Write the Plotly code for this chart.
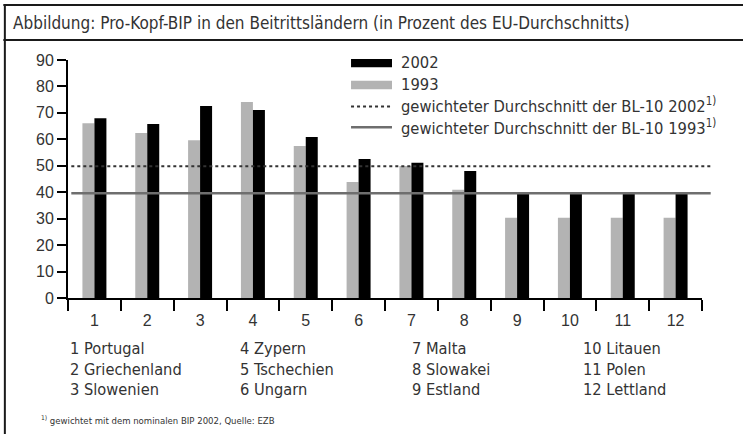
import plotly.graph_objects as go

categories = ["1", "2", "3", "4", "5", "6", "7", "8", "9", "10", "11", "12"]
values_1993 = [66.1, 62.4, 59.7, 74.1, 57.5, 43.9, 49.9, 40.9, 30.3, 30.3, 30.3, 30.3]
values_2002 = [68.0, 65.8, 72.6, 71.1, 60.9, 52.6, 51.1, 48.0, 39.6, 39.6, 39.6, 39.6]
avg_2002 = 49.8
avg_1993 = 39.6
y_ticks = [0, 10, 20, 30, 40, 50, 60, 70, 80, 90]
country_labels = [
    ["1 Portugal", "2 Griechenland", "3 Slowenien"],
    ["4 Zypern", "5 Tschechien", "6 Ungarn"],
    ["7 Malta", "8 Slowakei", "9 Estland"],
    ["10 Litauen", "11 Polen", "12 Lettland"],
]
legend_labels = ["2002", "1993",
                 "gewichteter Durchschnitt der BL-10 2002<sup>1)</sup>",
                 "gewichteter Durchschnitt der BL-10 1993<sup>1)</sup>"]
title_text = "Abbildung: Pro-Kopf-BIP in den Beitrittsländern (in Prozent des EU-Durchschnitts)"
footnote_text = "<sup>1)</sup> gewichtet mit dem nominalen BIP 2002, Quelle: EZB"

W, H = 743, 434
ML, MR, MT, MB = 67.7, 40.7, 60.0, 135.7
PW = W - ML - MR
PH = H - MT - MB

def px(x):
    return (x - ML) / PW

def py(y):
    return (H - MB - y) / PH

COND = "Liberation Sans Narrow, DejaVu Sans Condensed, Arial Narrow, sans-serif"
REG = "Liberation Sans, Arial, Helvetica, sans-serif"
TXT = "#333333"

fig = go.Figure()
fig.add_trace(go.Bar(x=categories, y=values_1993, name="1993",
                     marker=dict(color="#b3b3b3", line=dict(width=0))))
fig.add_trace(go.Bar(x=categories, y=values_2002, name="2002",
                     marker=dict(color="#000000", line=dict(width=0))))

shapes = []
# average lines
shapes.append(dict(type="line", xref="paper", yref="y", x0=px(71), x1=px(711),
                   y0=avg_2002, y1=avg_2002, line=dict(color="#333333", width=2, dash="dot")))
shapes.append(dict(type="line", xref="paper", yref="y", x0=px(71), x1=px(711),
                   y0=avg_1993, y1=avg_1993, line=dict(color="#6e6e6e", width=2.5)))
# frame
frame_col = "#1a1a1a"
shapes.append(dict(type="line", xref="paper", yref="paper", x0=px(3), x1=px(745),
                   y0=py(5), y1=py(5), line=dict(color=frame_col, width=2)))
shapes.append(dict(type="line", xref="paper", yref="paper", x0=px(3), x1=px(745),
                   y0=py(40), y1=py(40), line=dict(color=frame_col, width=2)))
shapes.append(dict(type="line", xref="paper", yref="paper", x0=px(4.5), x1=px(4.5),
                   y0=py(4), y1=py(436), line=dict(color=frame_col, width=2)))
# legend symbols
shapes.append(dict(type="rect", xref="paper", yref="paper", x0=px(351), x1=px(392),
                   y0=py(59), y1=py(67.3), fillcolor="#000000", line=dict(width=0)))
shapes.append(dict(type="rect", xref="paper", yref="paper", x0=px(351), x1=px(392),
                   y0=py(80.7), y1=py(89.3), fillcolor="#b3b3b3", line=dict(width=0)))
shapes.append(dict(type="line", xref="paper", yref="paper", x0=px(351), x1=px(392),
                   y0=py(106.5), y1=py(106.5), line=dict(color="#333333", width=2, dash="dot")))
shapes.append(dict(type="line", xref="paper", yref="paper", x0=px(351), x1=px(392),
                   y0=py(127.3), y1=py(127.3), line=dict(color="#6e6e6e", width=2.5)))

annotations = []
annotations.append(dict(text=title_text, xref="paper", yref="paper", x=px(11), y=py(23),
                        xanchor="left", yanchor="middle", showarrow=False,
                        font=dict(family=COND, size=17, color=TXT)))
legend_y = [63, 84.5, 105.5, 127]
for lab, ly in zip(legend_labels, legend_y):
    annotations.append(dict(text=lab, xref="paper", yref="paper", x=px(399), y=py(ly),
                            xanchor="left", yanchor="middle", showarrow=False,
                            font=dict(family=COND, size=16.4, color=TXT)))
col_x = [68, 238, 410, 581]
row_y = [349, 369.5, 390]
for cx, col in zip(col_x, country_labels):
    for ry, lab in zip(row_y, col):
        annotations.append(dict(text=lab, xref="paper", yref="paper", x=px(cx), y=py(ry),
                                xanchor="left", yanchor="middle", showarrow=False,
                                font=dict(family=COND, size=16.3, color=TXT)))
annotations.append(dict(text=footnote_text, xref="paper", yref="paper", x=px(39), y=py(420),
                        xanchor="left", yanchor="middle", showarrow=False,
                        font=dict(family=COND, size=9.5, color=TXT)))

fig.update_layout(
    width=W, height=H,
    margin=dict(l=ML, r=MR, t=MT, b=MB, pad=0),
    paper_bgcolor="white", plot_bgcolor="white",
    barmode="group", bargap=0.546, bargroupgap=0,
    showlegend=False,
    shapes=shapes, annotations=annotations,
    xaxis=dict(type="category", tickson="boundaries", ticks="outside", ticklen=11,
               tickwidth=2, tickcolor="#000", showline=True, linecolor="#000", linewidth=2,
               showgrid=False, zeroline=False, ticklabelstandoff=7,
               tickfont=dict(family=REG, size=16, color=TXT)),
    yaxis=dict(range=[0, 90], tickvals=y_ticks, ticks="outside", ticklen=9, tickwidth=2,
               tickcolor="#000", showline=True, linecolor="#000", linewidth=2,
               showgrid=False, zeroline=False,
               tickfont=dict(family=REG, size=16, color=TXT)),
)

fig.write_html("out.html", config={"displayModeBar": False},
               post_script="document.body.style.margin='0';document.body.style.overflow='hidden';")
